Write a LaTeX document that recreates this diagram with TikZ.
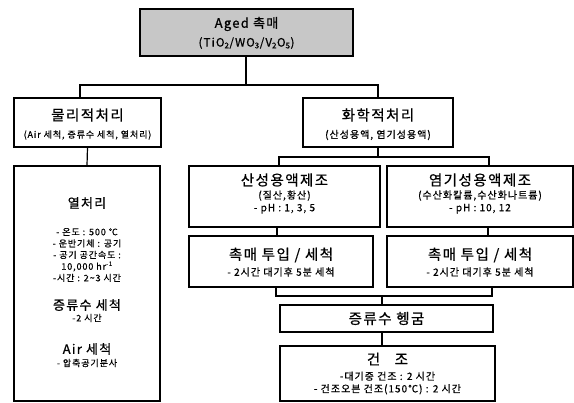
\documentclass[tikz,border=0pt]{standalone}
\usepackage{fontspec}
\setmainfont[LetterSpace=10, FakeBold=0.7]{Noto Sans CJK KR}
\begin{document}
\begin{tikzpicture}[x=1pt,y=-1pt,
  box/.style={draw, line width=1.2pt, rectangle, inner sep=0pt, align=center},
  conn/.style={line width=1.2pt},
  hd/.style={font=\fontsize{14.5}{16}\selectfont},
  hdb/.style={font=\fontsize{13}{15}\selectfont},
  sm/.style={font=\fontsize{10}{12.5}\selectfont, align=center},
  txt/.style={align=center, inner sep=0pt}]
\useasboundingbox (0,0) rectangle (574,403);

% boxes
\node[box, fill=black!22, minimum width=213pt, minimum height=47pt] (aged) at (246.5,32.5) {};
\node[txt, font=\fontsize{13}{15}\selectfont] (agedt) at (246.5,24) {Aged 촉매};
\node[txt, font=\fontsize{11.5}{15}\selectfont] (agedf) at (246.5,43) {(TiO\textsubscript{2}/WO\textsubscript{3}/V\textsubscript{2}O\textsubscript{5})};

\node[box, minimum width=147pt, minimum height=49pt] (phys) at (87.5,122.5) {};
\node[txt, hd] (physh) at (87.5,115) {물리적처리};
\node[txt, font=\fontsize{9}{11}\selectfont] (physs) at (87.5,135) {(Air 세척, 증류수 세척, 열처리)};

\node[box, minimum width=150pt, minimum height=49pt] (chem) at (378,122.5) {};
\node[txt, hd] (chemh) at (378,115) {화학적처리};
\node[txt, sm] (chems) at (378,135) {(산성용액, 염기성용액)};

\node[box, minimum width=146pt, minimum height=235pt] (heat) at (87,283.5) {};
\node[txt, hdb] (heath) at (87,203) {열처리};
\node[txt, font=\fontsize{9}{11.5}\selectfont] (heats) at (87,255) {- 온도 : 500 ℃\\- 운반기체 : 공기\\- 공기 공간속도 :\\10,000 hr\textsuperscript{-1}\\-시간 : 2\textasciitilde3 시간};
\node[txt, hdb] (dwh) at (87,305) {증류수 세척};
\node[txt, font=\fontsize{9}{11}\selectfont] (dws) at (87,318) {-2 시간};
\node[txt, hdb] (airh) at (87,349) {Air 세척};
\node[txt, font=\fontsize{9}{11}\selectfont] (airs) at (87,363) {- 압축공기분사};

\node[box, minimum width=191pt, minimum height=61pt] (acid) at (284.5,196.5) {};
\node[txt, hd] (acidh) at (284.5,180) {산성용액제조};
\node[txt, sm] (acids) at (284.5,202) {(질산,황산)\\- pH : 1, 3, 5};

\node[box, minimum width=186pt, minimum height=61pt] (base) at (480,196.5) {};
\node[txt, hd] (baseh) at (480,180) {염기성용액제조};
\node[txt, sm] (bases) at (480,202) {(수산화칼륨,수산화나트륨)\\- pH : 10, 12};

\node[box, minimum width=184pt, minimum height=51pt] (washL) at (281,261.5) {};
\node[txt, hd] (washLh) at (281,255) {촉매 투입 / 세척};
\node[txt, sm] (washLs) at (281,272) {- 2시간 대기후 5분 세척};

\node[box, minimum width=186pt, minimum height=51pt] (washR) at (480,261.5) {};
\node[txt, hd] (washRh) at (480,255) {촉매 투입 / 세척};
\node[txt, sm] (washRs) at (480,272) {- 2시간 대기후 5분 세척};

\node[box, minimum width=213pt, minimum height=27pt] (rinse) at (386.5,318.5) {};
\node[txt, hd] (rinset) at (386.5,318.5) {증류수 헹굼};

\node[box, minimum width=215pt, minimum height=55pt] (dry) at (387.5,373.5) {};
\node[txt, hd] (dryh) at (387.5,359) {건\hspace{1em}조};
\node[txt, font=\fontsize{10}{12.5}\selectfont] (drys) at (387.5,383) {-대기중 건조 : 2 시간\\- 건조오븐 건조(150℃) : 2 시간};

% connectors
\coordinate (j1) at (246,85);
\draw[conn] (aged.south -| j1) -- (j1);
\draw[conn] ([xshift=-7.5pt]phys.north) |- (j1) -| (chem.north);
\draw[conn] (phys.south) -- (heat.north);

\coordinate (j2) at (378,157);
\draw[conn] (chem.south) -- (j2);
\draw[conn] ([xshift=-5.5pt]acid.north) |- (j2) -| ([xshift=9pt]base.north);

\draw[conn] ([xshift=-7.5pt]acid.south) -- ([xshift=-7.5pt]acid.south |- washL.north);
\draw[conn] ([xshift=8pt]base.south) -- ([xshift=8pt]base.south |- washR.north);

\coordinate (j3) at (382,296);
\draw[conn] ([xshift=-5pt]washL.south) |- (j3) -| ([xshift=12pt]washR.south);
\draw[conn] (j3) -- (j3 |- rinse.north);
\draw[conn] (rinse.south -| j3) -- (dry.north -| j3);
\end{tikzpicture}
\end{document}
